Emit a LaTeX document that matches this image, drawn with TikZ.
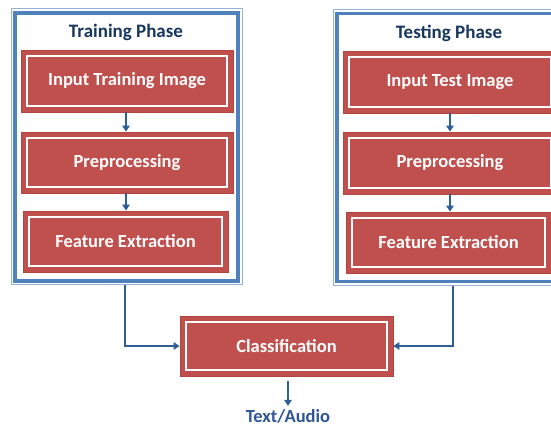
\documentclass[tikz,border=0pt]{standalone}
\usepackage{fontspec}
\setmainfont{Carlito}
\usetikzlibrary{arrows.meta,calc}

\definecolor{stepred}{HTML}{C0504D}
\definecolor{stepedge}{HTML}{B5443F}
\definecolor{phaseblue}{HTML}{4F81BD}
\definecolor{phaselight}{HTML}{95B3D7}
\definecolor{titlenavy}{HTML}{17375E}
\definecolor{arrowblue}{HTML}{2E5E96}
\definecolor{outblue}{HTML}{2F5597}

\tikzset{
  stepbox/.style={
    rectangle, fill=stepred, draw=stepedge, line width=0.8pt,
    text=white, font=\bfseries\fontsize{18.5}{20}\selectfont,
    inner sep=0pt,
    path picture={
      \draw[white, line width=1.6pt]
        ([shift={(6pt,-6pt)}]path picture bounding box.north west) rectangle
        ([shift={(-6pt,6pt)}]path picture bounding box.south east);
    }
  },
  phasebox/.style={
    rectangle, draw=phaselight, line width=1pt, inner sep=0pt,
    path picture={
      \draw[phaseblue, line width=3.2pt]
        ([shift={(4pt,-4pt)}]path picture bounding box.north west) rectangle
        ([shift={(-4pt,4pt)}]path picture bounding box.south east);
    }
  },
  phasetitle/.style={text=titlenavy, font=\bfseries\fontsize{19}{21}\selectfont},
  flow/.style={draw=arrowblue, line width=2.2pt, -{Triangle[length=6pt,width=7.5pt]}}
}

\begin{document}
\begin{tikzpicture}[x=1pt,y=-1pt]
  \useasboundingbox (0,0) rectangle (551,427);
  \clip (0,0) rectangle (551,427);

  % training column
  \node[phasebox, minimum width=231pt, minimum height=276pt] (train) at (126.5,147) {};
  \node[phasetitle] (traint) at (126,32) {Training Phase};
  \node[stepbox, minimum width=212pt, minimum height=62pt] (in1) at (127,81) {Input Training Image};
  \node[stepbox, minimum width=212pt, minimum height=61pt] (pre1) at (127,162.5) {Preprocessing};
  \node[stepbox, minimum width=205pt, minimum height=61pt] (fe1) at (125.5,241.5) {Feature Extraction};

  % testing column
  \node[phasebox, minimum width=230pt, minimum height=276pt] (test) at (448,147.5) {};
  \node[phasetitle] (testt) at (449,33) {Testing Phase};
  \node[stepbox, minimum width=214pt, minimum height=62pt] (in2) at (450,82) {Input Test Image};
  \node[stepbox, minimum width=214pt, minimum height=62pt] (pre2) at (450,163) {Preprocessing};
  \node[stepbox, minimum width=205pt, minimum height=61pt] (fe2) at (448.5,242.5) {Feature Extraction};

  % shared classifier
  \node[stepbox, minimum width=213pt, minimum height=60pt] (cls) at (286.5,346) {Classification};
  \node[text=outblue, inner sep=0pt, font=\bfseries\fontsize{18.5}{20}\selectfont] (out) at (288,416) {Text/Audio};

  % arrows inside the columns
  \draw[flow] (in1.south -| 126,0) -- (pre1.north -| 126,0);
  \draw[flow] (pre1.south -| 126,0) -- (fe1.north -| 126,0);
  \draw[flow] (in2.south -| 450,0) -- (pre2.north -| 450,0);
  \draw[flow] (pre2.south -| 450,0) -- (fe2.north -| 450,0);

  % columns feeding the classifier
  \draw[flow] (train.south -| 125,0) |- (cls.west);
  \draw[flow] (test.south -| 453,0) |- (cls.east);
  \draw[flow] (cls.south -| 288,0) ++(0,5) -- ($(out.north -| 288,0)+(0,-3)$);
\end{tikzpicture}
\end{document}
